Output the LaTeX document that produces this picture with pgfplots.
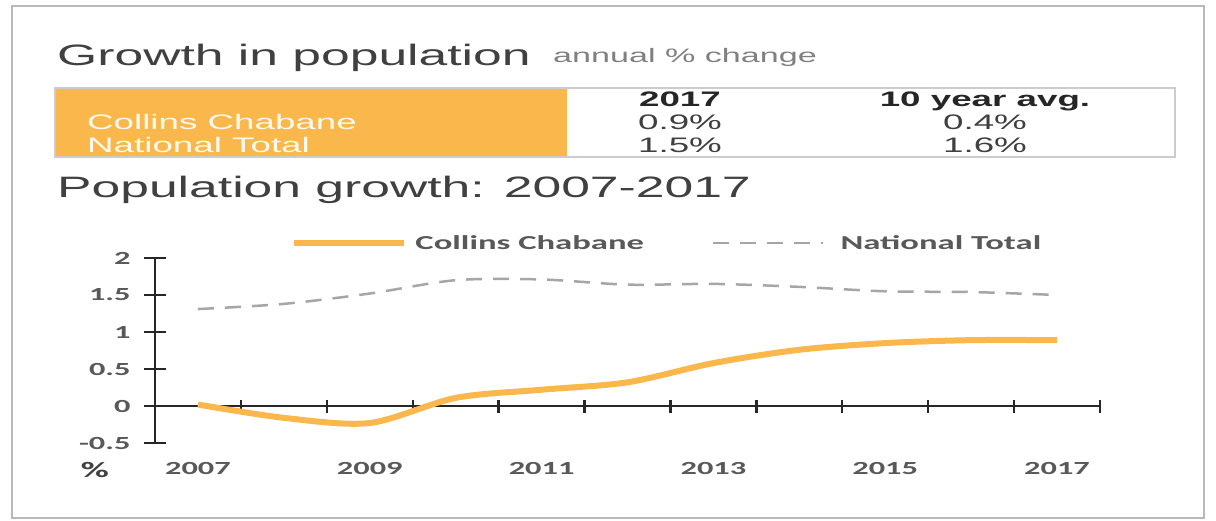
\documentclass[border=0pt]{standalone}
\usepackage{fontspec}
\setmainfont{Liberation Sans}[FakeStretch=1.75]
\newfontfamily\calfont{Carlito}[FakeStretch=1.75]
\usepackage{pgfplots}
\pgfplotsset{compat=1.18}

\definecolor{orng}{HTML}{FAB84C}
\definecolor{txt}{HTML}{404040}
\definecolor{lbl}{HTML}{595959}
\definecolor{natgray}{HTML}{A6A6A6}
\definecolor{axisk}{HTML}{262626}

\newcommand\tickfont{\calfont\bfseries\fontsize{18.5}{20}\selectfont}
\newcommand\legfont{\calfont\bfseries\fontsize{19.8}{21}\selectfont}
\newcommand\tabfont{\fontsize{21}{23}\selectfont}

\begin{document}
\begin{tikzpicture}[x=1pt,y=1pt]
\useasboundingbox (0,0) rectangle (1216,520);
\fill[white] (0,0) rectangle (1216,520);
\draw[gray!55, line width=1.5pt] (12,2) rectangle (1204,514);

% headings
\node[anchor=base west, inner sep=0, text=txt, font=\fontsize{29.5}{32}\selectfont] at (57,454) {Growth in population};
\node[anchor=base west, inner sep=0, text=gray, font=\fontsize{19.5}{22}\selectfont] at (553,457) {annual \% change};
\node[anchor=base west, inner sep=0, text=txt, font=\fontsize{29.5}{32}\selectfont] at (57,322) {Population growth: 2007-2017};

% summary table
\fill[orng] (55,363) rectangle (567,432);
\draw[gray!40, line width=1.5pt] (55,363) rectangle (1175,432);
\begin{scope}[every node/.style={anchor=base, inner sep=0, font=\tabfont, text=txt}]
\node[anchor=base west, text=white!92!orng] at (87,390) {Collins Chabane};
\node[anchor=base west, text=white!92!orng] at (87,367) {National Total};
\node[font=\tabfont\bfseries, text=axisk] at (680,413) {2017};
\node[font=\tabfont\bfseries, text=axisk] at (985,413) {10 year avg.};
\node at (680,390) {0.9\%};
\node at (680,367) {1.5\%};
\node at (985,390) {0.4\%};
\node at (985,367) {1.6\%};
\end{scope}

\begin{axis}[
  at={(155pt,77pt)}, anchor=south west,
  scale only axis, width=945pt, height=185pt,
  xmin=-0.5, xmax=10.5, ymin=-0.5, ymax=2,
  axis x line=middle, axis y line=left,
  axis line style={-, axisk, line width=2.4pt},
  hide obscured x ticks=false, hide obscured y ticks=false,
  xtick={0,2,4,6,8,10},
  xticklabels={2007,2009,2011,2013,2015,2017},
  minor xtick={-0.5,0.5,...,10.5},
  ytick={-0.5,0,0.5,1,1.5,2},
  tick align=center,
  major tick length=22pt, minor tick length=13pt,
  tick style={axisk, line width=2.4pt},
  major x tick style={draw=none},
  /pgf/number format/assume math mode=true,
  ticklabel style={font=\tickfont, text=lbl},
  xticklabel style={yshift=-42pt},
  yticklabel style={xshift=-10pt},
  legend style={draw=none, fill=none, at={(0.14,1.081)}, anchor=west,
    font=\legfont, text=lbl, legend columns=2,
    /tikz/every even column/.append style={column sep=66pt}},
  legend image code/.code={\draw[#1] (0pt,0pt) -- (110pt,0pt);},
  clip=false,
]
\addplot[orng, line width=6pt, smooth] coordinates {
  (0,0.02) (1,-0.16) (2,-0.23) (3,0.11) (4,0.22) (5,0.32)
  (6,0.58) (7,0.76) (8,0.85) (9,0.89) (10,0.89)
};
\addplot[natgray, line width=2.5pt, dash pattern=on 16pt off 11pt, smooth] coordinates {
  (0,1.31) (1,1.38) (2,1.52) (3,1.70) (4,1.71) (5,1.64)
  (6,1.65) (7,1.61) (8,1.55) (9,1.54) (10,1.50)
};
\legend{\hspace{7pt}Collins Chabane, \hspace{14pt}National Total}
\end{axis}

\node[font=\calfont\bfseries\fontsize{22}{24}\selectfont, text=txt] at (95,50) {\%};
\end{tikzpicture}
\end{document}
